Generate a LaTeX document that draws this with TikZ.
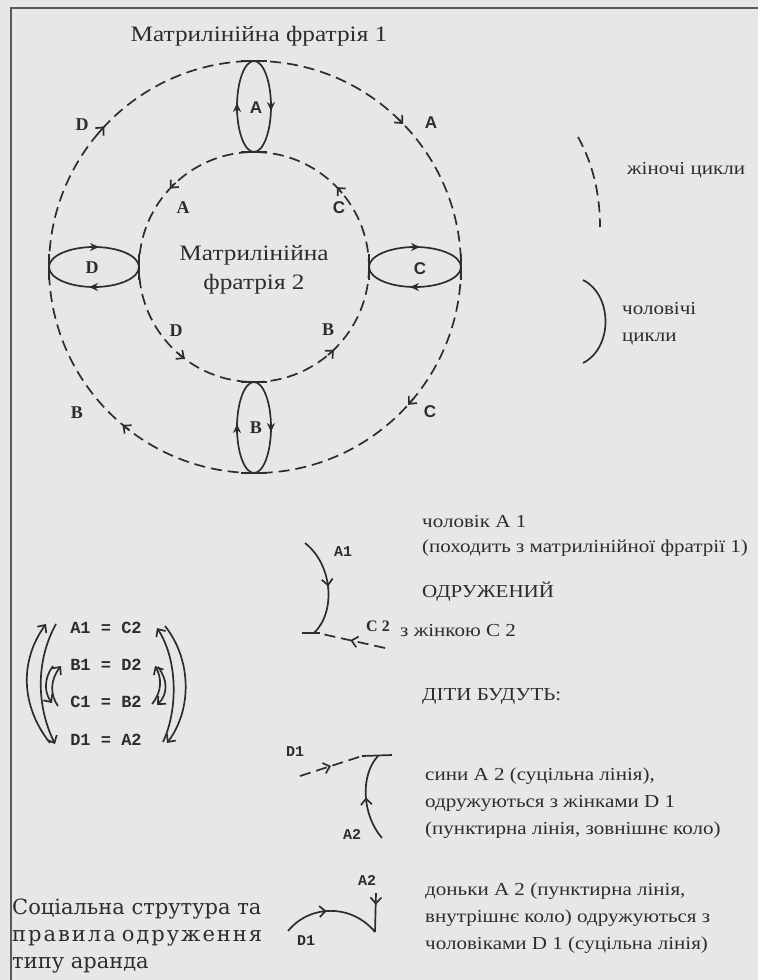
\documentclass[tikz,border=0pt]{standalone}
\usepackage{fontspec}
\setmainfont{Liberation Serif}
\newfontfamily\widetimes[FakeStretch=1.15]{Liberation Serif}
\newfontfamily\lblsans{Liberation Sans}
\newfontfamily\lblmono{Liberation Mono}
\newfontfamily\wideser{DejaVu Serif}
\usetikzlibrary{arrows.meta,decorations.markings}
\definecolor{paper}{RGB}{231,231,231}
\definecolor{ink}{RGB}{45,45,45}
\definecolor{framec}{RGB}{90,90,90}
\begin{document}
\begin{tikzpicture}[x=1pt,y=-1pt,
  ln/.style={draw=ink,line width=1.7pt},
  dsh/.style={ln,dash pattern=on 11pt off 6pt},
  barb/.style={-{Straight Barb[length=6pt,width=11pt]}},
  looptip/.style={-{Stealth[length=9pt,width=8pt]}},
  midbarb/.style={postaction={decorate},decoration={markings,mark=at position #1 with {\arrow{Straight Barb[length=6pt,width=11pt]}}}},
  midbarbrev/.style={postaction={decorate},decoration={markings,mark=at position #1 with {\arrowreversed{Straight Barb[length=6pt,width=11pt]}}}},
  txt/.style={text=ink,font=\widetimes\fontsize{18.3}{24}\selectfont,anchor=mid west,inner sep=0pt},
  title/.style={text=ink,font=\widetimes\fontsize{22}{29}\selectfont,inner sep=0pt,align=center},
  lblser/.style={text=ink,font=\fontsize{18}{20}\selectfont\bfseries,inner sep=0pt},
  lblsan/.style={text=ink,font=\lblsans\fontsize{17}{20}\selectfont\bfseries,inner sep=0pt},
  eqn/.style={text=ink,font=\lblmono\fontsize{17}{20}\selectfont\bfseries,inner sep=0pt},
  clab/.style={text=ink,font=\lblmono\fontsize{15}{18}\selectfont\bfseries,inner sep=0pt},
  caption/.style={text=ink,font=\wideser\fontsize{21}{26}\selectfont,anchor=base west,inner sep=0pt}
]
\fill[paper] (0,0) rectangle (758,980);
\useasboundingbox (0,0) rectangle (758,980);
\draw[framec,line width=2.5pt] (11,980) -- (11,8) -- (758,8);

% titles
\node[title] (t1) at (259,36) {Матрилінійна фратрія 1};
\node[title] (t2) at (254,270) {Матрилінійна\\фратрія 2};

% circles
\coordinate (O) at (255,267);
\coordinate (I) at (254,267);
\draw[dsh] (O) circle [radius=206];
\draw[dsh] (I) circle [radius=115];
% arrows on outer circle (clockwise)
\foreach \a in {42,130,223,316}
  \draw[ln,barb] ([shift={(O)}]\a-2.5:206) arc [start angle=\a-2.5, end angle=\a, radius=206];
% arrows on inner circle (counter-clockwise)
\foreach \a in {46,127,223,316}
  \draw[ln,barb] ([shift={(I)}]\a+4:115) arc [start angle=\a+4, end angle=\a, radius=115];

% loops
\draw[ln] (254,106.5) ellipse [x radius=17, y radius=45.5];
\draw[ln] (241,61) -- (267,61);
\draw[ln] (241,152) -- (267,152);
\draw[ln,looptip] (237,113) -- (237,103);
\draw[ln,looptip] (271,101) -- (271,111);

\draw[ln] (254,427.5) ellipse [x radius=17, y radius=45.5];
\draw[ln] (241,382) -- (267,382);
\draw[ln] (241,473) -- (267,473);
\draw[ln,looptip] (237,434) -- (237,424);
\draw[ln,looptip] (271,422) -- (271,432);

\draw[ln] (94,267) ellipse [x radius=45, y radius=20];
\draw[ln] (49,254) -- (49,280);
\draw[ln] (139,254) -- (139,280);
\draw[ln,looptip] (89,247) -- (99,247);
\draw[ln,looptip] (99,287) -- (89,287);

\draw[ln] (415,267) ellipse [x radius=46, y radius=20];
\draw[ln] (369,254) -- (369,280);
\draw[ln] (461,254) -- (461,280);
\draw[ln,looptip] (410,247) -- (420,247);
\draw[ln,looptip] (420,287) -- (410,287);

% loop labels
\node[lblsan] (la) at (256,108) {A};
\node[lblser] (lb) at (256,428) {B};
\node[lblser] (ld) at (92,268) {D};
\node[lblsan] (lc) at (420,269) {C};

% circle labels
\node[lblser] (od) at (82,125) {D};
\node[lblsan] (oa) at (431,123) {A};
\node[lblsan] (oc) at (430,412) {C};
\node[lblser] (ob) at (77,413) {B};
\node[lblser] (ia) at (183,208) {A};
\node[lblsan] (ic) at (339,208) {C};
\node[lblser] (id) at (176,331) {D};
\node[lblser] (ib) at (328,330) {B};

% cycles brackets
\coordinate (f1) at (578,137);
\coordinate (f2) at (600,227);
\draw[dsh] (f1) .. controls (592,162) and (600,192) .. (f2);
\node[txt] (fem) at (627,172) {жіночі цикли};
\coordinate (m1) at (583,280);
\coordinate (m2) at (583,363);
\draw[ln] (m1) .. controls (613,295) and (613,348) .. (m2);
\node[txt] (mal1) at (622,312) {чоловічі};
\node[txt] (mal2) at (622,339) {цикли};

% right text
\node[txt] (r1) at (422,525) {чоловік А 1};
\node[txt] (r2) at (422,550) {(походить з матрилінійної фратрії 1)};
\node[txt] (r3) at (422,595) {ОДРУЖЕНИЙ};
\node[txt] (r4) at (400,634) {з жінкою С 2};
\node[txt] (r5) at (422,698) {ДІТИ БУДУТЬ:};
\node[txt] (r6) at (425,778) {сини А 2 (суцільна лінія),};
\node[txt] (r7) at (425,805) {одружуються з жінками D 1};
\node[txt] (r8) at (425,832) {(пунктирна лінія, зовнішнє коло)};
\node[txt] (r9) at (425,893) {доньки А 2 (пунктирна лінія,};
\node[txt] (r10) at (425,920) {внутрішнє коло) одружуються з};
\node[txt] (r11) at (425,947) {чоловіками D 1 (суцільна лінія)};

% connector pair 1
\coordinate (a1s) at (305,543);
\coordinate (T1) at (314,633);
\coordinate (c2s) at (385,648);
\draw[ln,midbarb=0.5] (a1s) .. controls (333,565) and (336,612) .. (T1);
\draw[ln] (302,633) -- (320,633);
\draw[dsh,midbarb=0.55] (c2s) -- (322,634);
\node[clab] (la1) at (343,552) {A1};
\node[clab,font=\bfseries\fontsize{16}{18}\selectfont] (lc2) at (378,626) {C 2};

% connector pair 2
\coordinate (d1s) at (300,776);
\coordinate (T2) at (378,756);
\coordinate (a2s) at (382,838);
\draw[dsh,midbarb=0.5] (d1s) -- (362,756);
\draw[ln] (362,756) -- (392,755);
\draw[ln,midbarbrev=0.5] (T2) .. controls (360,775) and (362,815) .. (a2s);
\node[clab] (ld1) at (295,752) {D1};
\node[clab] (la2) at (352,834) {A2};

% connector pair 3
\coordinate (a2t) at (376,893);
\coordinate (T3) at (375,932);
\coordinate (d1t) at (288,931);
\draw[ln,midbarb=0.3] (a2t) -- (T3);
\draw[ln,midbarb=0.45] (d1t) .. controls (310,904) and (352,904) .. (T3);
\node[clab] (la3) at (367,880) {A2};
\node[clab] (ld3) at (306,941) {D1};

% equation block
\node[eqn] (e1) at (106,628) {A1 = C2};
\node[eqn] (e2) at (106,665) {B1 = D2};
\node[eqn] (e3) at (106,702) {C1 = B2};
\node[eqn] (e4) at (106,740) {D1 = A2};
\draw[ln,barb] (50,743) .. controls (20,705) and (20,660) .. (46,624);
\draw[ln,barb] (56,624) .. controls (36,660) and (36,705) .. (55,744);
\draw[ln,barb] (58,706) .. controls (50,695) and (50,680) .. (61,666);
\draw[ln,barb] (53,666) .. controls (44,678) and (44,692) .. (52,703);
\draw[ln,barb] (152,704) .. controls (162,692) and (162,678) .. (155,666);
\draw[ln,barb] (158,667) .. controls (168,680) and (168,694) .. (157,705);
\draw[ln,barb] (163,742) .. controls (178,710) and (178,660) .. (157,628);
\draw[ln,barb] (165,626) .. controls (192,660) and (192,710) .. (167,743);

% caption
\node[caption] (cap1) at (12,914) {Соціальна струтура та};
\node[caption] (cap2) at (12,941) {\makebox[250pt][s]{п\hfill р\hfill а\hfill в\hfill и\hfill л\hfill а\hfill\hfill\hfill о\hfill д\hfill р\hfill у\hfill ж\hfill е\hfill н\hfill н\hfill я}};
\node[caption] (cap3) at (12,968) {типу аранда};
\end{tikzpicture}
\end{document}
